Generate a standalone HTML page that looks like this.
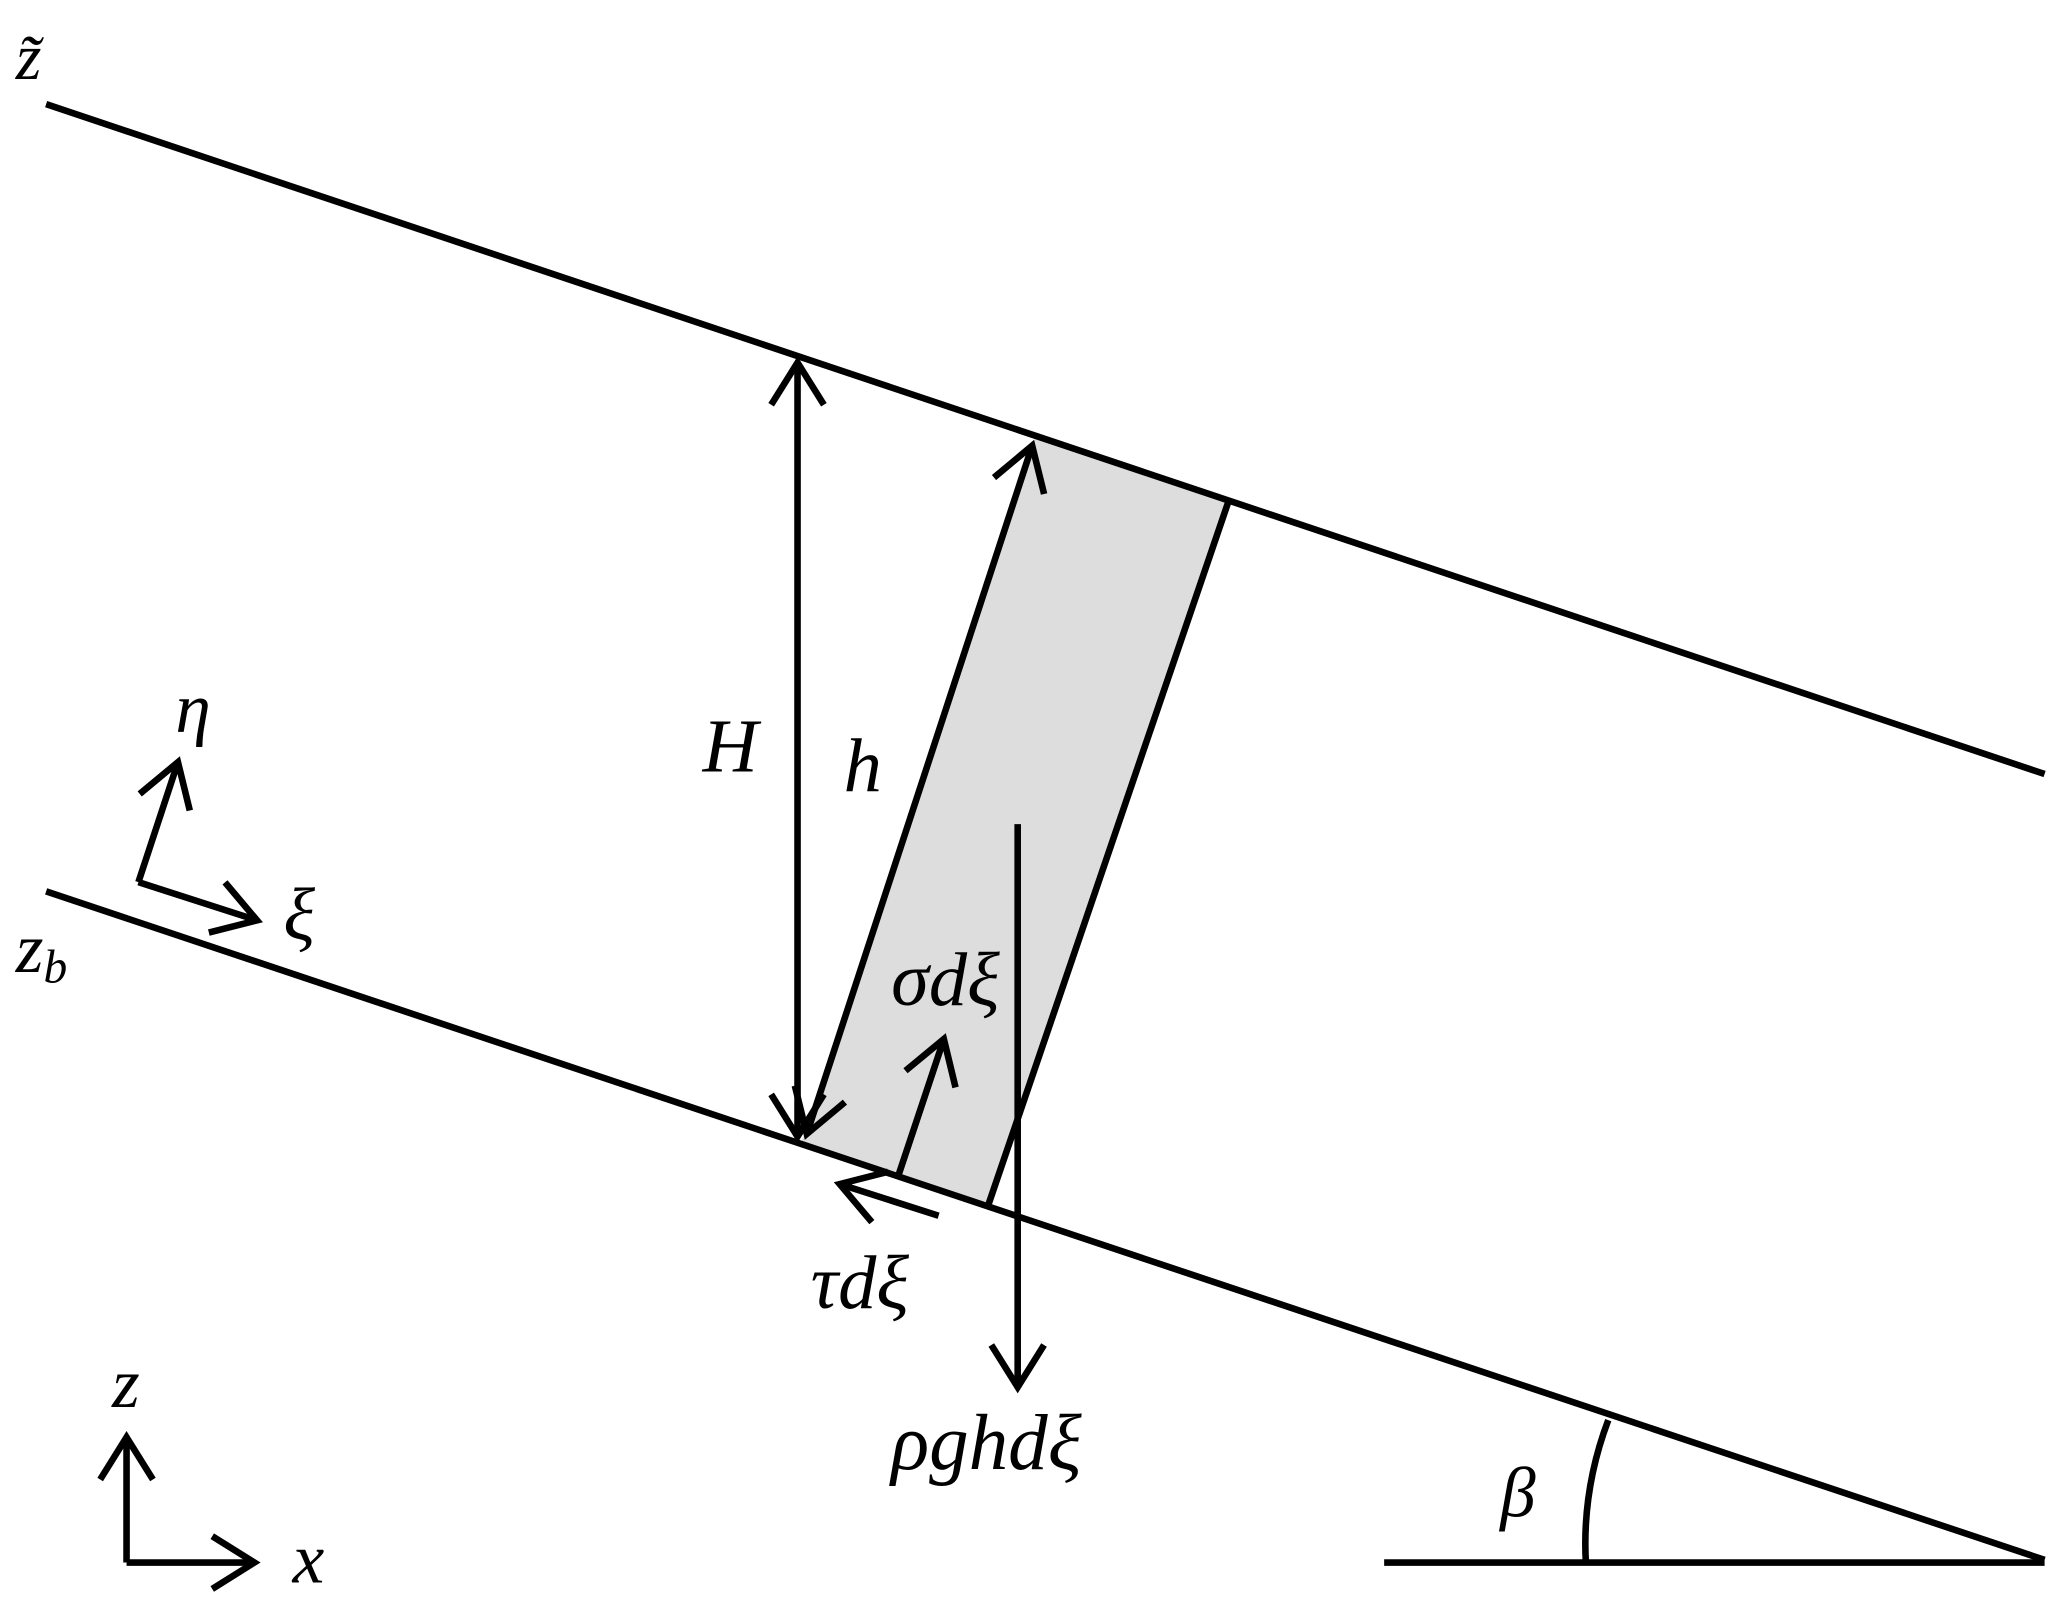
<!DOCTYPE html>
<html><head><meta charset="utf-8"><style>
html,body{margin:0;padding:0;background:#fff;}
svg{display:block;}
text{font-family:"Liberation Serif",serif;font-style:italic;fill:#000;}
</style></head><body>
<svg width="2067" height="1610" viewBox="0 0 1568 1221" preserveAspectRatio="none" xmlns="http://www.w3.org/2000/svg">
<defs>
<marker id="a" viewBox="-40 -25 45 50" markerWidth="45" markerHeight="50" refX="0" refY="0" orient="auto-start-reverse" markerUnits="userSpaceOnUse">
<path d="M-32,-20 L0,0 L-32,20" fill="none" stroke="#000" stroke-width="5"/>
</marker>
</defs>
<polygon points="785,333 932,380 750,913 608,866" fill="#dddddd"/>
<g stroke="#000" stroke-width="5" fill="none">
<line x1="35" y1="79" x2="1551" y2="587"/>
<line x1="35" y1="676" x2="1551" y2="1183"/>
<line x1="1050" y1="1185" x2="1551" y2="1185"/>
<path d="M1220,1077 Q1200,1130 1203,1185"/>
<line x1="932" y1="380" x2="750" y2="913"/>
<line x1="612" y1="860" x2="783" y2="338" marker-start="url(#a)" marker-end="url(#a)"/>
<line x1="605" y1="862" x2="605" y2="275" marker-start="url(#a)" marker-end="url(#a)"/>
<line x1="772" y1="625" x2="772" y2="1052" marker-end="url(#a)"/>
<line x1="682" y1="890" x2="716" y2="788" marker-end="url(#a)"/>
<line x1="712" y1="922" x2="637" y2="898" marker-end="url(#a)"/>
<line x1="105" y1="669" x2="135" y2="578" marker-end="url(#a)"/>
<line x1="105" y1="669" x2="195" y2="698" marker-end="url(#a)"/>
<line x1="96" y1="1185" x2="96" y2="1090" marker-end="url(#a)"/>
<line x1="96" y1="1185" x2="193" y2="1185" marker-end="url(#a)"/>
</g>
<text x="12" y="60" font-size="50">z̃</text>
<text x="133" y="555" font-size="54">η</text>
<text x="215" y="712" font-size="56">ξ</text>
<text x="12" y="737" font-size="54">z<tspan font-size="36" dy="8">b</tspan></text>
<text x="533" y="585" font-size="58">H</text>
<text x="640" y="600" font-size="58">h</text>
<text x="676" y="762" font-size="58">σdξ</text>
<text x="615" y="992" font-size="58">τdξ</text>
<text x="676" y="1114" font-size="60">ρghdξ</text>
<text x="85" y="1067" font-size="54">z</text>
<text x="222" y="1200" font-size="54">x</text>
<text x="1138" y="1150" font-size="54">β</text>
</svg>
</body></html>
